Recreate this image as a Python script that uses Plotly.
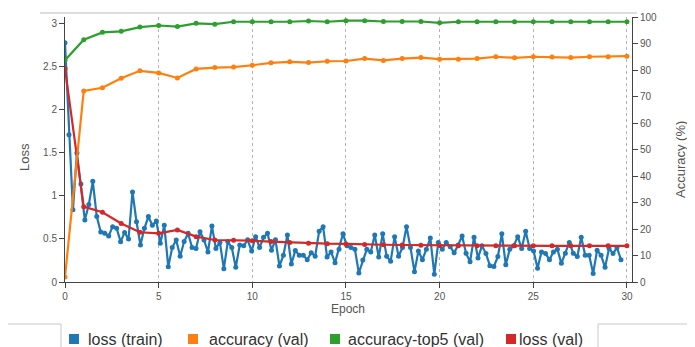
import plotly.graph_objects as go

# ---------------- data ----------------
epochs_val = list(range(0, 31))
TRAIN_STEP = 0.212  # epochs between train-loss samples

loss_train = [
    2.78, 1.71, 0.84, 1.50, 1.14, 0.72, 0.90, 1.17, 0.76, 0.58,
    0.566, 0.535, 0.643, 0.624, 0.469, 0.574, 0.50, 1.047, 0.70, 0.43,
    0.624, 0.76, 0.66, 0.71, 0.45, 0.66, 0.178, 0.40, 0.488, 0.30,
    0.47, 0.566, 0.40, 0.39, 0.585, 0.488, 0.35, 0.65, 0.39, 0.46,
    0.155, 0.47, 0.40, 0.17, 0.43, 0.42, 0.49, 0.36, 0.527, 0.40,
    0.52, 0.566, 0.37, 0.49, 0.186, 0.31, 0.547, 0.21, 0.365, 0.31,
    0.31, 0.26, 0.34, 0.30, 0.59, 0.643, 0.29, 0.35, 0.225, 0.38,
    0.56, 0.42, 0.40, 0.38, 0.105, 0.256, 0.38, 0.35, 0.547, 0.29,
    0.56, 0.30, 0.24, 0.527, 0.30, 0.40, 0.643, 0.40, 0.12, 0.36,
    0.26, 0.38, 0.51, 0.09, 0.46, 0.38, 0.46, 0.41, 0.34, 0.43,
    0.535, 0.333, 0.235, 0.52, 0.28, 0.42, 0.33, 0.19, 0.18, 0.295,
    0.56, 0.20, 0.38, 0.42, 0.527, 0.39, 0.59, 0.39, 0.36, 0.16,
    0.35, 0.33, 0.26, 0.35, 0.38, 0.217, 0.333, 0.46, 0.333, 0.295,
    0.52, 0.31, 0.31, 0.10, 0.37, 0.31, 0.17, 0.39, 0.33, 0.40,
    0.26,
]
epochs_train = [i * TRAIN_STEP for i in range(len(loss_train))]

accuracy_val = [
    1.9, 72.1, 73.3, 76.9, 79.7, 78.9, 77.0, 80.4, 80.9, 81.1,
    81.8, 82.7, 83.1, 82.8, 83.3, 83.4, 84.3, 83.6, 84.3, 84.7,
    84.1, 84.1, 84.3, 85.0, 84.6, 85.0, 84.9, 84.7, 85.0, 85.0,
    85.2,
]
accuracy_top5_val = [
    83.7, 91.4, 94.2, 94.6, 96.2, 96.8, 96.4, 97.6, 97.3, 98.2,
    98.2, 98.2, 98.2, 98.5, 98.2, 98.6, 98.6, 98.3, 98.3, 98.3,
    97.8, 98.2, 98.2, 98.2, 98.2, 98.2, 98.2, 98.2, 98.2, 98.2,
    98.2,
]
loss_val = [
    2.48, 0.876, 0.81, 0.68, 0.578, 0.566, 0.605, 0.527, 0.488, 0.486,
    0.48, 0.47, 0.46, 0.45, 0.445, 0.443, 0.435, 0.433, 0.43, 0.428,
    0.424, 0.422, 0.42, 0.42, 0.42, 0.42, 0.42, 0.42, 0.42, 0.42,
    0.42,
]

series_names = ["loss (train)", "accuracy (val)", "accuracy-top5 (val)", "loss (val)"]
series_colors = ["#1f77b4", "#ff7f0e", "#2ca02c", "#d62728"]

x_ticks = [0, 5, 10, 15, 20, 25, 30]
loss_ticks = [0, 0.5, 1, 1.5, 2, 2.5, 3]
acc_ticks = [0, 10, 20, 30, 40, 50, 60, 70, 80, 90, 100]

# ---------------- figure ----------------
FONT = "Liberation Sans, Arial, sans-serif"
AXC = "#444"
TXT = "#555"

# the page body has an 8px margin, so the figure starts at (8, 8) of the window
OFF = 8
W, H = 695 - OFF, 347 - OFF
ML, MR, MT, MB = 65 - OFF, 63, 17 - OFF, 65
PW, PH = W - ML - MR, H - MT - MB


def px(x):  # window pixel -> paper x
    return (x - OFF - ML) / PW


def py(y):  # window pixel -> paper y
    return (H - MB - (y - OFF)) / PH


fig = go.Figure()


def line_trace(x, y, color, yaxis, name):
    return go.Scatter(
        x=x, y=y, mode="lines+markers", yaxis=yaxis, showlegend=False, name=name,
        line=dict(color=color, width=2.2),
        marker=dict(color=color, size=5),
    )


fig.add_trace(line_trace(epochs_val, accuracy_top5_val, series_colors[2], "y2", series_names[2]))
fig.add_trace(line_trace(epochs_val, accuracy_val, series_colors[1], "y2", series_names[1]))
fig.add_trace(line_trace(epochs_train, loss_train, series_colors[0], "y", series_names[0]))
fig.add_trace(line_trace(epochs_val, loss_val, series_colors[3], "y", series_names[3]))

# legend (drawn as a custom row below the chart)
legend_square_x = [69, 188, 330, 506]
legend_text_x = [86, 207, 346, 517]
legend_y = 339
shapes = []
annotations = []
for name, color, sx, tx in zip(series_names, series_colors, legend_square_x, legend_text_x):
    shapes.append(dict(type="rect", xref="paper", yref="paper",
                       x0=px(sx), x1=px(sx + 10), y0=py(legend_y - 5), y1=py(legend_y + 5),
                       fillcolor=color, line=dict(width=0)))
    annotations.append(dict(text=name, xref="paper", yref="paper", x=px(tx), y=py(legend_y),
                            xanchor="left", yanchor="middle", showarrow=False,
                            font=dict(size=16, color="#333", family=FONT)))

annotations += [
    dict(text="Loss", xref="paper", yref="paper", x=px(24), y=py(157),
         xanchor="center", yanchor="middle",
         textangle=-90, showarrow=False, font=dict(size=13, color=TXT)),
    dict(text="Accuracy (%)", xref="paper", yref="paper", x=px(680), y=py(160),
         xanchor="center", yanchor="middle",
         textangle=-90, showarrow=False, font=dict(size=13, color=TXT)),
    dict(text="Epoch", xref="paper", yref="paper", x=px(348), y=py(309),
         xanchor="center", yanchor="middle", borderpad=0,
         showarrow=False, font=dict(size=12, color=TXT)),
]

frame = dict(color="#c8c8c8", width=1)
shapes += [
    dict(type="line", xref="paper", yref="paper", x0=px(40), x1=px(637), y0=py(13), y1=py(13),
         line=dict(color="#bbb", width=1)),
    dict(type="line", xref="paper", yref="paper", x0=px(8), x1=px(61), y0=py(324), y1=py(324), line=frame),
    dict(type="line", xref="paper", yref="paper", x0=px(598), x1=px(695), y0=py(324), y1=py(324), line=frame),
    dict(type="line", xref="paper", yref="paper", x0=px(61), x1=px(61), y0=py(324), y1=py(347), line=frame),
    dict(type="line", xref="paper", yref="paper", x0=px(598), x1=px(598), y0=py(324), y1=py(347), line=frame),
]

fig.update_layout(
    width=W, height=H,
    margin=dict(l=ML, r=MR, t=MT, b=MB, autoexpand=False),
    paper_bgcolor="white", plot_bgcolor="white",
    font=dict(family=FONT, color=TXT, size=10),
    showlegend=False,
    xaxis=dict(
        range=[0, 30.27], tickvals=x_ticks, ticks="outside", ticklen=5,
        tickcolor=AXC, showline=True, linecolor=AXC, linewidth=1,
        showgrid=True, gridcolor="#b5b5b5", griddash="dot", gridwidth=1,
        zeroline=False, tickfont=dict(size=10, color=TXT),
    ),
    yaxis=dict(
        range=[0, 3.08], tickvals=loss_ticks, ticktext=["0", "0.5", "1", "1.5", "2", "2.5", "3"],
        ticks="outside", ticklen=5, tickcolor=AXC, showline=True, linecolor=AXC,
        linewidth=1, showgrid=False, zeroline=False, tickfont=dict(size=10, color=TXT),
    ),
    yaxis2=dict(
        range=[0, 100], tickvals=acc_ticks, overlaying="y", side="right",
        ticks="outside", ticklen=5, tickcolor=AXC, showline=True, linecolor=AXC,
        linewidth=1, showgrid=False, zeroline=False, tickfont=dict(size=10, color=TXT),
    ),
    annotations=annotations,
    shapes=shapes,
)

fig.write_html("out.html")
